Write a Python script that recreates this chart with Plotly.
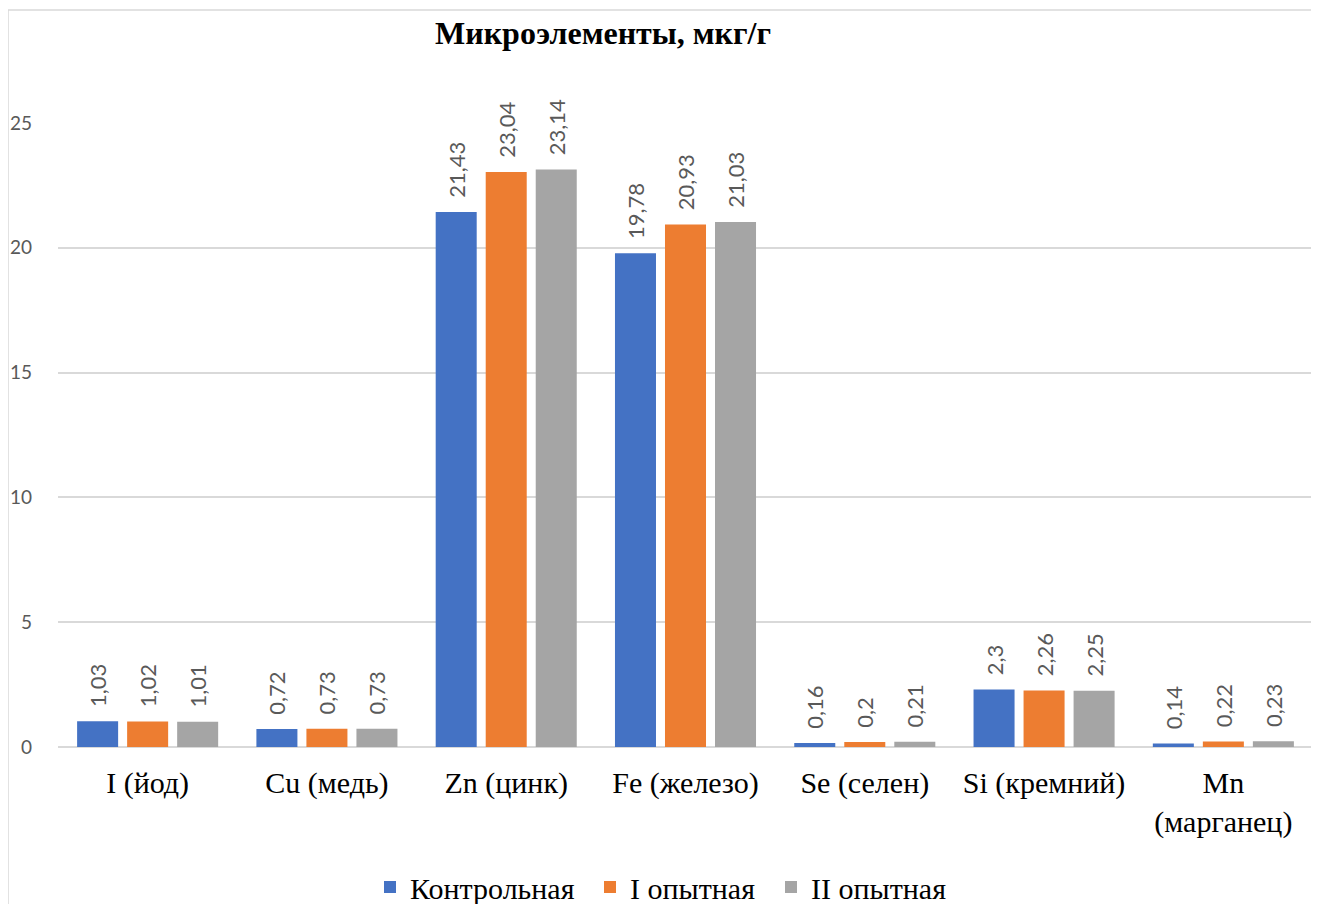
import plotly.graph_objects as go

categories = ["I (йод)", "Cu (медь)", "Zn (цинк)", "Fe (железо)", "Se (селен)",
              "Si (кремний)", "Mn<br>(марганец)"]
series_names = ["Контрольная", "I опытная", "II опытная"]
control = [1.03, 0.72, 21.43, 19.78, 0.16, 2.30, 0.14]
exp1 = [1.02, 0.73, 23.04, 20.93, 0.20, 2.26, 0.22]
exp2 = [1.01, 0.73, 23.14, 21.03, 0.21, 2.25, 0.23]
colors = ["#4472C4", "#ED7D31", "#A5A5A5"]
legend_widths = [175, 136, None]
y_ticks = [0, 5, 10, 15, 20, 25]
title_text = "Микроэлементы, мкг/г"

SERIF = "Liberation Serif, Times New Roman, serif"
SANS = "Lato, Open Sans, sans-serif"

# page has an 8px body margin; positions below are reference pixels shifted by it
OFF = 8
W, H = 1319 - OFF, 904 - OFF
ml, mt = 58 - OFF, 123 - OFF
plot_right, plot_bottom = 1313 - OFF, 747 - OFF
mr, mb = W - plot_right, H - plot_bottom
pw, ph = W - ml - mr, H - mt - mb


def px_x(x):
    return (x - OFF - ml) / pw


def px_y(y):
    return (H - mb - (y - OFF)) / ph


def fmt(v):
    return "\u00a0\u00a0" + f"{v:g}".replace(".", ",")


fig = go.Figure()
for name, vals, col, lw in zip(series_names, [control, exp1, exp2], colors, legend_widths):
    fig.add_trace(go.Bar(
        x=categories, y=vals, name=name,
        marker=dict(color=col, line=dict(width=0)),
        text=[fmt(v) for v in vals],
        textposition="outside", textangle=-90,
        constraintext="none", cliponaxis=False,
        textfont=dict(family=SANS, size=22, color="#595959"),
        legendwidth=lw,
    ))

fig.update_layout(
    width=W, height=H,
    margin=dict(l=ml, r=mr, t=mt, b=mb, autoexpand=False),
    paper_bgcolor="white", plot_bgcolor="white",
    barmode="group", bargap=0.163, bargroupgap=0.18,
    title=dict(text="<b>" + title_text + "</b>", x=(603 - OFF) / W, xanchor="center",
               y=1 - (33 - OFF) / H, yanchor="middle", yref="container",
               font=dict(family=SERIF, size=32, color="black")),
    legend=dict(orientation="h", x=px_x(370), xanchor="left",
                y=1 - (887 - OFF) / H, yanchor="middle", yref="container",
                font=dict(family=SERIF, size=30, color="black"),
                bgcolor="rgba(0,0,0,0)"),
    xaxis=dict(showline=False, showgrid=False, ticks="",
               tickfont=dict(family=SERIF, size=30, color="black"),
               ticklabelstandoff=15),
    yaxis=dict(range=[0, 25], tickvals=y_ticks, showgrid=True,
               gridcolor="#D9D9D9", gridwidth=1.5,
               zeroline=True, zerolinecolor="#D9D9D9", zerolinewidth=1.5,
               showline=False, ticks="",
               tickfont=dict(family=SANS, size=19, color="#595959"),
               ticklabelstandoff=25),
    shapes=[dict(type="rect", xref="paper", yref="paper",
                 x0=px_x(8), x1=px_x(1313), y0=px_y(915), y1=px_y(10),
                 line=dict(color="#D9D9D9", width=1.5), fillcolor="rgba(0,0,0,0)",
                 layer="below")],
)

fig.write_html("out.html")
